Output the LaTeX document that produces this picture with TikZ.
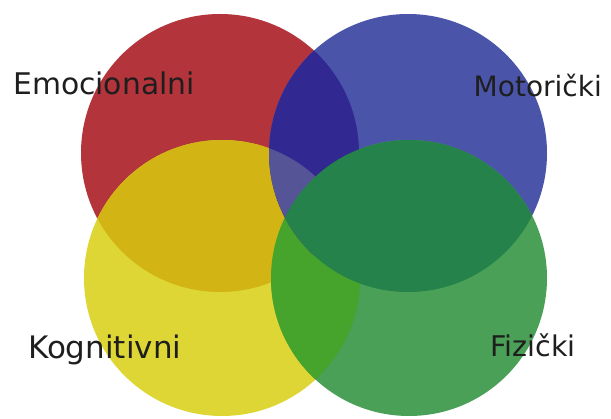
\documentclass[tikz,border=0pt]{standalone}
\usepackage{fontspec}
\setmainfont{DejaVu Sans}
\usepackage{xcolor}
\definecolor{EmoRed}{RGB}{179,52,58}
\definecolor{MotBlue}{RGB}{74,84,168}
\definecolor{KogYellow}{RGB}{222,214,52}
\definecolor{FizGreen}{RGB}{74,160,86}
\definecolor{RedYellow}{RGB}{210,180,20}
\definecolor{RedBlue}{RGB}{50,40,146}
\definecolor{RedYellowBlue}{RGB}{84,84,150}
\definecolor{BlueGreen}{RGB}{36,130,74}
\definecolor{YellowGreen}{RGB}{70,164,44}
\definecolor{LabelGray}{RGB}{30,30,30}

\begin{document}
\begin{tikzpicture}[x=1pt, y=-1pt, every node/.style={text=LabelGray, inner sep=0pt},
  circlabel/.style={font=\fontsize{#1}{#1}\selectfont}]
\useasboundingbox (0,0) rectangle (611,419);
\coordinate (emo) at (220,153);
\coordinate (mot) at (408,153);
\coordinate (kog) at (222,278);
\coordinate (fiz) at (409,278);
% base circles
\fill[EmoRed] (emo) circle[radius=139pt];
\fill[MotBlue] (mot) circle[radius=139pt];
\fill[KogYellow] (kog) circle[radius=138pt];
\fill[FizGreen] (fiz) circle[radius=138pt];
% overlaps
\begin{scope}
\clip (emo) circle[radius=139pt];
\fill[RedYellow] (kog) circle[radius=138pt];
\end{scope}
\begin{scope}
\clip (kog) circle[radius=138pt];
\fill[YellowGreen] (fiz) circle[radius=138pt];
\end{scope}
\begin{scope}
\clip (emo) circle[radius=139pt];
\fill[RedBlue] (mot) circle[radius=139pt];
\clip (kog) circle[radius=138pt];
\fill[RedYellowBlue] (mot) circle[radius=139pt];
\end{scope}
\begin{scope}
\clip (mot) circle[radius=139pt];
\fill[BlueGreen] (fiz) circle[radius=138pt];
\end{scope}
% labels
\node[circlabel=29.8, anchor=base west] (emolabel) at (13,95) {Emocionalni};
\node[circlabel=28, anchor=base east] (motlabel) at (602,97) {Motorički};
\node[circlabel=31, anchor=base west] (koglabel) at (28,359) {Kognitivni};
\node[circlabel=28.5, anchor=base west] (fizlabel) at (490,357) {Fizički};
\end{tikzpicture}
\end{document}
